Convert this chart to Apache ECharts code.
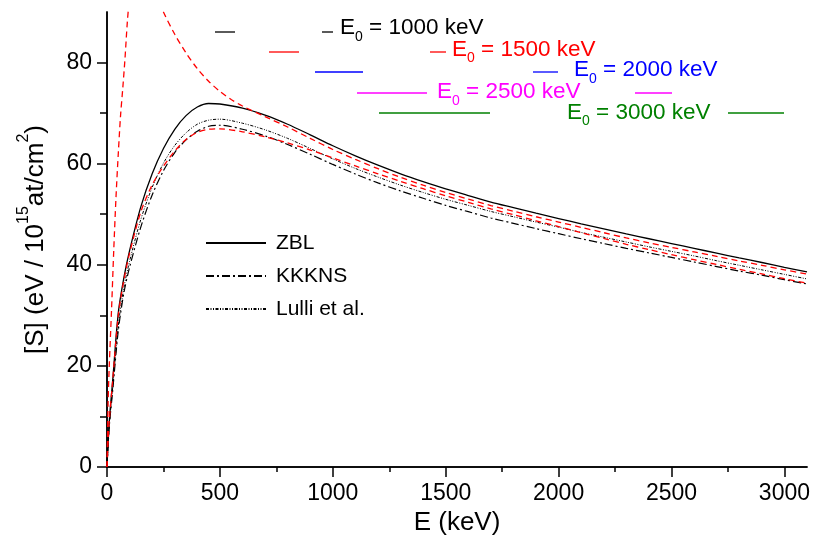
<!DOCTYPE html>
<html>
<head>
<meta charset="utf-8">
<script src="https://cdn.jsdelivr.net/npm/echarts@6/dist/echarts.min.js"></script>
<style>html,body{margin:0;padding:0;background:#fff}#c{width:815px;height:543px}</style>
</head>
<body>
<div id="c"></div>
<script>
// ---- data ----
var energy = [0,10,25,50,75,100,150,200,250,300,350,400,450,500,600,700,800,900,1000,1100,1200,1300,1400,1500,1600,1700,1800,1900,2000,2100,2200,2300,2400,2500,2600,2700,2800,2900,3000,3100];
var zbl    = [0,9,17,30.5,37.5,42.8,51.5,58,63,66.8,69.5,71.2,71.9,71.8,71.0,69.6,67.8,65.7,63.55,61.55,59.7,58.0,56.45,55.0,53.7,52.4,51.3,50.2,49.15,48.1,47.1,46.1,45.15,44.2,43.25,42.3,41.35,40.45,39.5,38.6];
var kkkns  = [0,8,15,27,34.5,39.5,47.5,53.8,58.6,62.2,64.7,66.4,67.4,67.6,66.8,65.5,63.8,61.85,59.85,57.95,56.2,54.6,53.15,51.75,50.5,49.25,48.2,47.15,46.15,45.15,44.2,43.25,42.35,41.45,40.55,39.65,38.75,37.95,37.05,36.2];
var lulli  = [0,8.3,15.6,28,35.5,40.7,49,55.3,60.1,63.6,66.1,67.8,68.6,68.8,68.0,66.7,65.0,63.0,60.95,59.05,57.35,55.75,54.3,52.95,51.75,50.55,49.5,48.45,47.45,46.4,45.45,44.5,43.55,42.65,41.75,40.8,39.9,39.0,38.1,37.2];
var redLow = [0,9,17,30,37,42.3,50.5,55.8,59.5,62.5,64.8,66.2,66.8,66.9,66.3,65.3,64.1,62.7,61.15,59.55,58.0,56.5,55.05,53.65,52.35,51.05,49.9,48.7,47.55,46.35,45.2,44.05,43.0,42.0,41.0,40.05,39.1,38.2,37.25,36.35];
var energyRed = [0,5,10,20,30,40,50,60,70,80,90,100,110,125,150,175,200,225,250,300,350,400,450,500,550,600,700,800,900,1000,1100,1200,1300,1400,1500,1600,1700,1800,1900,2000,2100,2200,2300,2400,2500,2600,2700,2800,2900,3000,3100];
var redHigh   = [0,13,20,31,43,53.5,62,69.5,75,81,88,93,96.5,99.5,100.5,99,96,93,90,85.6,81.9,78.8,76.3,74.3,72.7,71.4,69.3,67.25,65.0,62.8,60.85,59.0,57.3,55.75,54.3,53.0,51.7,50.6,49.5,48.45,47.4,46.35,45.3,44.35,43.45,42.55,41.65,40.75,39.9,39.0,38.15];
var xMajor = [0,500,1000,1500,2000,2500,3000];
var xMinor = [250,750,1250,1750,2250,2750];
var yMajor = [0,20,40,60,80];
var yMinor = [10,30,50,70];
var e0Labels = ['1000','1500','2000','2500','3000'];
var e0Colors = ['#000000','#ff0000','#0000ff','#ff00ff','#008000'];

function pairs(xs, ys){ return xs.map(function(x,i){ return [x, ys[i]]; }); }

var FF = '"Liberation Sans", Arial, Helvetica, sans-serif';
var chart = echarts.init(document.getElementById('c'), null, {renderer:'canvas'});

function ax(kind, pos, ticks, len, inside, showLine, showLabel, extra){
  var o = {
    type:'value', min:0, max:(kind==='x'?3100:90), position:pos,
    axisLine:{show:showLine, lineStyle:{color:'#000', width:1.5}},
    axisTick:{show:true, customValues:ticks, length:len, inside:inside, lineStyle:{color:'#000', width:1.5}},
    axisLabel:{show:showLabel, customValues:ticks, fontSize:23, fontFamily:FF, color:'#000', margin:15,
      formatter:function(v){ return String(v); }},
    splitLine:{show:false}
  };
  return Object.assign(o, extra||{});
}

var graphics = [];
var legLines = [
  [[215,235],[322,333]],
  [[269,299],[430,446]],
  [[315,363],[533,558]],
  [[357,427],[635,672]],
  [[379,490],[728,784]]
];
var legLineY = [32,52,72,93,113];
var legText = [[340,28],[452,49.5],[574,70],[437,92],[567,112.5]];
for (var i=0;i<5;i++){
  legLines[i].forEach(function(seg){
    graphics.push({type:'line', silent:true, shape:{x1:seg[0], y1:legLineY[i], x2:seg[1], y2:legLineY[i]},
      style:{stroke:e0Colors[i], lineWidth:1.3}});
  });
  graphics.push({type:'text', silent:true, x:legText[i][0], y:legText[i][1],
    style:{text:'{e|E}{s|0}{e| = '+e0Labels[i]+' keV}', align:'left', verticalAlign:'middle',
      fill:e0Colors[i], font:'22px '+FF,
      rich:{e:{fontSize:22.5, fontFamily:FF, lineHeight:32, fill:e0Colors[i], color:e0Colors[i]},
            s:{fontSize:14, fontFamily:FF, lineHeight:14, verticalAlign:'bottom', fill:e0Colors[i], color:e0Colors[i]}}}});
}

var option = {
  animation:false,
  backgroundColor:'#fff',
  grid:{left:107, right:8, top:12, bottom:76, containLabel:false, outerBoundsMode:'none'},
  xAxis:[
    ax('x','bottom', xMajor, 10, false, true, true, {name:'E (keV)', nameLocation:'middle', nameGap:41,
      nameTextStyle:{fontSize:26, fontFamily:FF, color:'#000'}}),
    ax('x','bottom', xMinor, 5, false, false, false),
    ax('x','top', xMajor, 10, true, true, false),
    ax('x','top', xMinor, 5, true, false, false)
  ],
  yAxis:[
    ax('y','left', yMajor, 10, false, true, true, {name:'{n|[S] (eV / 10}{p|15}{n|at/cm}{p|2}{n|)}', nameLocation:'middle', nameGap:51,
      nameTextStyle:{fontSize:26, fontFamily:FF, color:'#000',
        rich:{n:{fontSize:26, fontFamily:FF, color:'#000', lineHeight:40},
              p:{fontSize:16, fontFamily:FF, color:'#000', lineHeight:16, verticalAlign:'top'}}}}),
    ax('y','left', yMinor, 5, false, false, false),
    ax('y','right', yMajor, 10, true, true, false),
    ax('y','right', yMinor, 7, true, false, false)
  ],
  legend:{
    orient:'vertical', left:205, top:231, padding:0, itemWidth:60, itemHeight:14, itemGap:9,
    data:['ZBL','KKKNS','Lulli et al.'],
    itemStyle:{color:'rgba(0,0,0,0)', borderColor:'rgba(0,0,0,0)', borderWidth:0, opacity:0},
    textStyle:{fontSize:21, fontFamily:FF, color:'#000', lineHeight:24, padding:[0,0,0,5]},
    selectedMode:false
  },
  series:[
    {name:'ZBL', type:'line', data:pairs(energy,zbl), symbol:'none', smooth:0.3, clip:true,
      lineStyle:{color:'#000', width:1.3, type:'solid'}, itemStyle:{color:'#000'}},
    {name:'KKKNS', type:'line', data:pairs(energy,kkkns), symbol:'none', smooth:0.3, clip:true,
      lineStyle:{color:'#000', width:1.2, type:[8,3,2,3]}, itemStyle:{color:'#000'}},
    {name:'Lulli et al.', type:'line', data:pairs(energy,lulli), symbol:'none', smooth:0.3, clip:true,
      lineStyle:{color:'#000', width:1, type:[3,1.5,1,1.5,1,1.5]}, itemStyle:{color:'#000'}},
    {name:'red-low', type:'line', data:pairs(energy,redLow), symbol:'none', smooth:0.3, clip:true,
      lineStyle:{color:'#ff0000', width:1.3, type:[6,4]}, itemStyle:{color:'#ff0000'}},
    {name:'red-high', type:'line', data:pairs(energyRed,redHigh), symbol:'none', smooth:0.3, clip:true,
      lineStyle:{color:'#ff0000', width:1.3, type:[6,4]}, itemStyle:{color:'#ff0000'}}
  ],
  graphic:graphics
};
chart.setOption(option);
</script>
</body>
</html>
